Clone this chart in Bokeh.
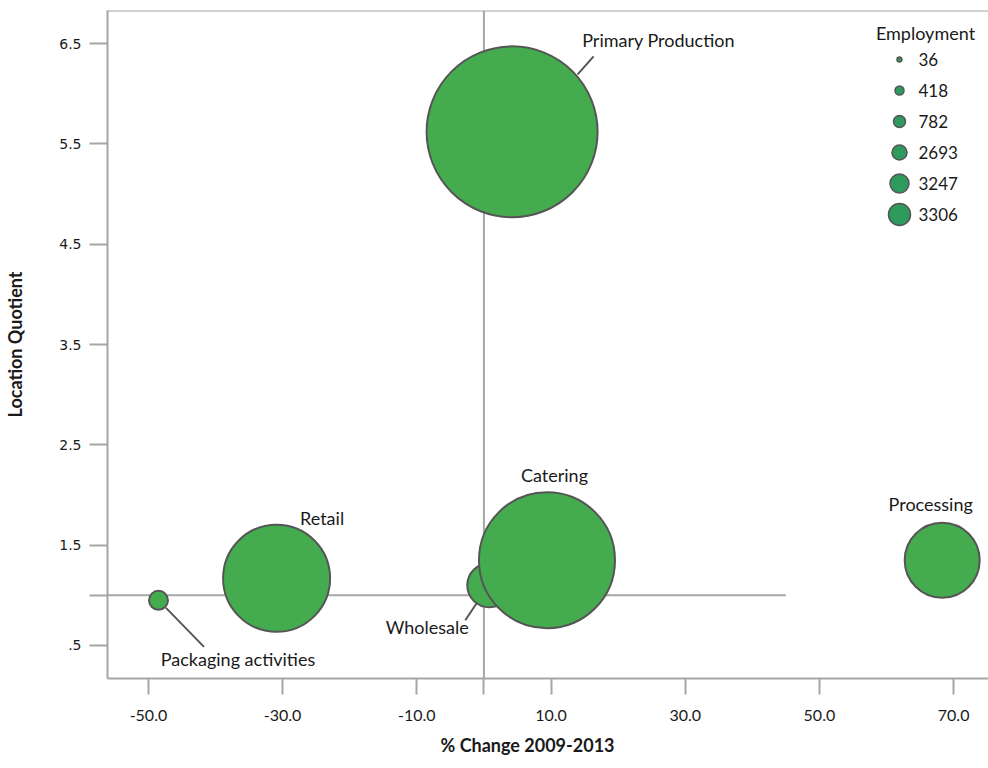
from bokeh.plotting import figure
from bokeh.models import (ColumnDataSource, Span, FixedTicker, LinearInterpolator, Range1d, Title)
from bokeh.transform import transform
from bokeh.core.properties import value
from bokeh.embed import file_html
from bokeh.resources import INLINE

# ---------------- data ----------------
sectors = ["Primary Production", "Wholesale", "Catering", "Retail", "Processing", "Packaging activities"]
pct_change = [4.2, 0.8, 9.4, -30.9, 68.3, -48.5]
location_quotient = [5.62, 1.10, 1.35, 1.17, 1.35, 0.95]
employment = [3306, 418, 3247, 2693, 782, 36]

legend_values = [36, 418, 782, 2693, 3247, 3306]
x_ticks = [-50, -30, -10, 10, 30, 50, 70]
x_tick_labels = ["-50.0", "-30.0", "-10.0", "10.0", "30.0", "50.0", "70.0"]
y_ticks = [0.5, 1.5, 2.5, 3.5, 4.5, 5.5, 6.5]
y_tick_labels = [".5", "1.5", "2.5", "3.5", "4.5", "5.5", "6.5"]
ref_x = 0
ref_y = 1
ref_y_line_end = 45
x_title = "% Change 2009-2013"
y_title = "Location Quotient"
legend_title = "Employment"

# ---------------- styles / layout ----------------
BUBBLE_FILL = "#44ac4e"
LEGEND_FILL = "#2f9a5d"
EDGE = "#555555"
GRID_GRAY = "#a6a6a6"
TEXT = "#1a1a1a"
FONT = "Lato"

bubble_diameters = [19, 44, 75, 107, 136, 171]      # size scale range (px)
legend_diameters = [5, 9, 12, 15, 19, 22]

W, H = 988, 768
BL, BR, BT, BB = 107, 0, 10, 90
X0, X1 = -56.1, 75.2
Y0, Y1 = 0.171, 6.829
FW, FH = W - BL - BR, H - BT - BB
PAGE_LEFT, PAGE_TOP = BL, BT

def dx(px):  # pixel distance -> x data units
    return px * (X1 - X0) / FW

def dy(px):  # pixel distance (down positive) -> y data units
    return -px * (Y1 - Y0) / FH

def sx(px):  # picture pixel -> data x
    return X0 + dx(px - PAGE_LEFT)

def sy(py):  # picture pixel -> data y
    return Y1 + dy(py - PAGE_TOP)

p = figure(width=W, height=H, output_backend="svg", toolbar_location=None,
           x_range=Range1d(X0, X1), y_range=Range1d(Y0, Y1),
           min_border_left=BL, min_border_right=BR, min_border_top=BT, min_border_bottom=BB)
p.xgrid.visible = False
p.ygrid.visible = False
p.outline_line_color = None
p.background_fill_color = "white"
p.border_fill_color = "white"

# axes
for ax in (p.xaxis[0], p.yaxis[0]):
    ax.axis_line_color = GRID_GRAY
    ax.axis_line_width = 2
    ax.major_tick_line_color = GRID_GRAY
    ax.major_tick_line_width = 2
    ax.major_tick_in = 0
    ax.minor_tick_line_color = None
    ax.major_label_text_color = TEXT
    ax.axis_label_text_color = TEXT
    ax.axis_label_text_font = FONT
    ax.axis_label_text_font_style = "bold"
    ax.axis_label_text_font_size = "18px"

xa = p.xaxis[0]
xa.ticker = FixedTicker(ticks=sorted(x_ticks + [ref_x]))
ov = {t: l for t, l in zip(x_ticks, x_tick_labels)}
ov[ref_x] = ""
xa.major_label_overrides = ov
xa.major_tick_out = 16
xa.major_label_standoff = 15
xa.major_label_text_font = FONT
xa.major_label_text_font_size = "16px"

ya = p.yaxis[0]
ya.ticker = FixedTicker(ticks=sorted(y_ticks + [ref_y]))
ov = {t: l for t, l in zip(y_ticks, y_tick_labels)}
ov[ref_y] = ""
ya.major_label_overrides = ov
ya.major_tick_out = 18
ya.major_label_standoff = 8
ya.major_label_text_font = "DejaVu Sans"
ya.major_label_text_font_size = "14px"
ya.axis_label = y_title
ya.axis_label_standoff = 30

# x axis title (left of the frame centre, as in the original)
p.add_layout(Title(text=x_title, align="left", offset=440 - BL, standoff=16,
                   text_font=FONT, text_font_style="bold", text_font_size="18px",
                   text_color=TEXT), "below")

# top border
p.add_layout(Span(location=Y1, dimension="width", line_color=GRID_GRAY, line_width=2))

# reference lines
p.add_layout(Span(location=ref_x, dimension="height", line_color=GRID_GRAY, line_width=2, level="underlay"))
p.segment(x0=[X0], y0=[ref_y], x1=[ref_y_line_end], y1=[ref_y], line_color=GRID_GRAY, line_width=2)

# bubbles
src = ColumnDataSource(dict(x=pct_change, y=location_quotient, emp=employment, name=sectors))
size_scale = LinearInterpolator(x=legend_values, y=bubble_diameters)
p.scatter("x", "y", source=src, size=transform("emp", size_scale), marker="circle",
          fill_color=BUBBLE_FILL, line_color=EDGE, line_width=2)

# labels (offsets in px from bubble centre, screen y down)
label_offsets = {
    "Primary Production": (146.5, -91.5),
    "Catering": (7.5, -85),
    "Retail": (45.5, -60.5),
    "Processing": (-11.5, -56.5),
    "Wholesale": (-62, 42),
    "Packaging activities": (79.5, 58.5),
}
leaders = {
    "Primary Production": ((65.5, -57.5), (81.5, -75.5)),
    "Wholesale": ((-12, 17), (-24, 35)),
    "Packaging activities": ((7.5, 7.5), (45.5, 46.5)),
}
lx, ly, lt = [], [], []
sx0, sy0, sx1, sy1 = [], [], [], []
for name, xv, yv in zip(sectors, pct_change, location_quotient):
    ox, oy = label_offsets[name]
    lx.append(xv + dx(ox)); ly.append(yv + dy(oy)); lt.append(name)
    if name in leaders:
        (a, b), (c, d) = leaders[name]
        sx0.append(xv + dx(a)); sy0.append(yv + dy(b))
        sx1.append(xv + dx(c)); sy1.append(yv + dy(d))
p.segment(x0=sx0, y0=sy0, x1=sx1, y1=sy1, line_color=EDGE, line_width=2)
p.text(x=lx, y=ly, text=lt, text_align="center", text_baseline="middle",
       text_font=value(FONT), text_font_size="18px", text_color=TEXT)

# size legend
leg_rows = [59, 90, 121, 152, 183, 214]
leg_src = ColumnDataSource(dict(x=[sx(899)] * len(legend_values), y=[sy(r) for r in leg_rows],
                                emp=legend_values, lab=[str(v) for v in legend_values],
                                tx=[sx(918)] * len(legend_values)))
p.scatter("x", "y", source=leg_src, marker="circle",
          size=transform("emp", LinearInterpolator(x=legend_values, y=legend_diameters)),
          fill_color=LEGEND_FILL, line_color=EDGE, line_width=1.5)
p.text("tx", "y", text="lab", source=leg_src, text_align="left", text_baseline="middle",
       text_font=value(FONT), text_font_size="17px", text_color=TEXT)
p.text(x=[sx(925)], y=[sy(32)], text=[legend_title], text_align="center", text_baseline="middle",
       text_font=value(FONT), text_font_size="18px", text_color=TEXT)

open("out.html", "w").write(file_html(p, INLINE))
